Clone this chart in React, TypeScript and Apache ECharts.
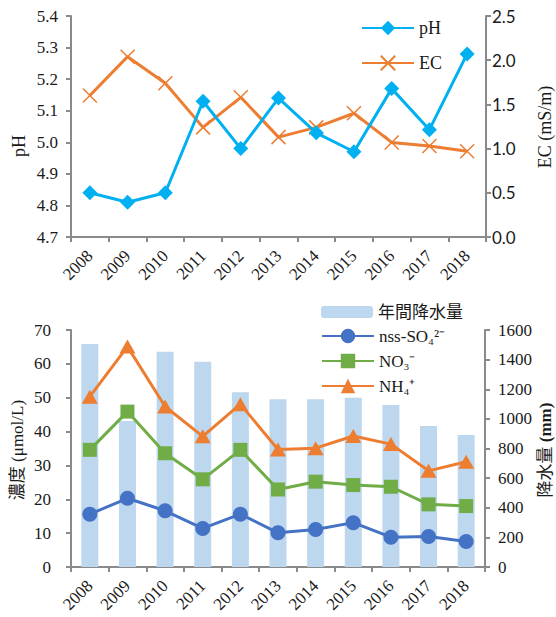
import React, { useEffect, useRef } from "react";
import * as echarts from "echarts";

const years = ["2008", "2009", "2010", "2011", "2012", "2013", "2014", "2015", "2016", "2017", "2018"];
const phValues = [4.84, 4.81, 4.84, 5.13, 4.98, 5.14, 5.03, 4.97, 5.17, 5.04, 5.28];
const ecValues = [1.60, 2.04, 1.74, 1.24, 1.58, 1.13, 1.24, 1.40, 1.07, 1.03, 0.97];
const precipitation = [1506, 986, 1454, 1386, 1179, 1132, 1132, 1143, 1094, 952, 891];
const nssSO4 = [15.6, 20.3, 16.6, 11.4, 15.6, 10.1, 11.1, 13.1, 8.8, 9.0, 7.5];
const no3 = [34.6, 45.9, 33.6, 25.9, 34.6, 22.9, 25.2, 24.2, 23.7, 18.5, 18.0];
const nh4 = [50.3, 65.1, 47.4, 38.6, 48.1, 34.7, 35.1, 38.7, 36.3, 28.4, 31.1];

const SERIF = "'Liberation Serif', 'Times New Roman', 'Noto Sans CJK JP', serif";
const SANS = "Lato, 'Open Sans', sans-serif";
const AXIS = "#8a8a8a";
const TXT = "#1a1a1a";

export default function App() {
  const ref = useRef<HTMLDivElement>(null);
  useEffect(() => {
    if (!ref.current) return;
    const chart = echarts.init(ref.current, undefined, { renderer: "svg" });
    const axisLine = { show: true, lineStyle: { color: AXIS, width: 2 } };
    const axisTick = { show: true, length: 5, lineStyle: { color: AXIS, width: 2 } };
    const xAxisBase = {
      type: "category",
      data: years,
      axisLine,
      axisTick: { ...axisTick, alignWithLabel: false },
      axisLabel: { rotate: 45, interval: 0, margin: 16, fontFamily: SERIF, fontSize: 17, color: TXT },
      splitLine: { show: false },
    };
    const cross = "path://M0,0L10,10M10,0L0,10";
    const legendText = { fontFamily: SERIF, fontSize: 17, color: TXT, lineHeight: 18 };
    const option = {
      animation: false,
      backgroundColor: "#ffffff",
      grid: [
        { left: 71, right: 70, top: 16, height: 221 },
        { left: 71, right: 71, top: 330, height: 237 },
      ],
      legend: [
        {
          orient: "vertical",
          left: 361,
          top: 19,
          padding: 0,
          itemWidth: 52,
          itemHeight: 18,
          itemGap: 17,
          textStyle: { ...legendText, fontSize: 18 },
          data: ["pH", "EC"],
        },
        {
          orient: "vertical",
          left: 321,
          top: 303,
          padding: 0,
          itemWidth: 52,
          itemHeight: 12,
          textStyle: legendText,
          data: ["年間降水量"],
        },
        {
          orient: "vertical",
          left: 321,
          top: 327,
          padding: 0,
          itemWidth: 52,
          itemHeight: 18,
          itemGap: 7,
          textStyle: legendText,
          data: ["nss-SO₄²⁻", "NO₃⁻", "NH₄⁺"],
        },
      ],
      xAxis: [
        { ...xAxisBase, gridIndex: 0 },
        { ...xAxisBase, gridIndex: 1 },
      ],
      yAxis: [
        {
          type: "value", gridIndex: 0, min: 4.7, max: 5.4, interval: 0.1,
          axisLine, axisTick, splitLine: { show: false },
          axisLabel: { margin: 13, fontFamily: SERIF, fontSize: 17, color: TXT, formatter: (v: number) => v.toFixed(1) },
        },
        {
          type: "value", gridIndex: 0, position: "right", min: 0, max: 2.5, interval: 0.5,
          axisLine, axisTick, splitLine: { show: false },
          axisLabel: { margin: 6, fontFamily: SANS, fontSize: 17, color: TXT, formatter: (v: number) => v.toFixed(1) },
        },
        {
          type: "value", gridIndex: 1, min: 0, max: 70, interval: 10,
          axisLine, axisTick, splitLine: { show: false },
          axisLabel: { margin: 20, fontFamily: SERIF, fontSize: 17, color: TXT },
        },
        {
          type: "value", gridIndex: 1, position: "right", min: 0, max: 1600, interval: 200,
          axisLine, axisTick, splitLine: { show: false },
          axisLabel: { margin: 13, fontFamily: SERIF, fontSize: 17, color: TXT, formatter: (v: number) => String(v) },
        },
      ],
      series: [
        {
          name: "pH", type: "line", xAxisIndex: 0, yAxisIndex: 0, data: phValues,
          symbol: "diamond", symbolSize: 15,
          lineStyle: { color: "#00B0F0", width: 3 },
          itemStyle: { color: "#00B0F0" },
          z: 3,
        },
        {
          name: "EC", type: "line", xAxisIndex: 0, yAxisIndex: 1, data: ecValues,
          symbol: cross, symbolSize: 14,
          lineStyle: { color: "#ED7D31", width: 3 },
          itemStyle: { color: "#ED7D31", borderColor: "#ED7D31", borderWidth: 1.5 },
          z: 2,
        },
        {
          name: "年間降水量", type: "bar", xAxisIndex: 1, yAxisIndex: 3, data: precipitation,
          barWidth: 17, itemStyle: { color: "#BDD7EE" }, z: 1,
        },
        {
          name: "nss-SO₄²⁻", type: "line", xAxisIndex: 1, yAxisIndex: 2, data: nssSO4,
          symbol: "circle", symbolSize: 15,
          lineStyle: { color: "#4472C4", width: 3 },
          itemStyle: { color: "#4472C4" }, z: 3,
        },
        {
          name: "NO₃⁻", type: "line", xAxisIndex: 1, yAxisIndex: 2, data: no3,
          symbol: "rect", symbolSize: 14,
          lineStyle: { color: "#70AD47", width: 3 },
          itemStyle: { color: "#70AD47" }, z: 3,
        },
        {
          name: "NH₄⁺", type: "line", xAxisIndex: 1, yAxisIndex: 2, data: nh4,
          symbol: "triangle", symbolSize: [16, 14],
          lineStyle: { color: "#ED7D31", width: 3 },
          itemStyle: { color: "#ED7D31" }, z: 3,
        },
      ],
      graphic: [
        {
          type: "text", x: 19, y: 146, rotation: Math.PI / 2,
          style: { text: "pH", fontFamily: SERIF, fontSize: 18, fill: TXT, align: "center", verticalAlign: "middle" },
        },
        {
          type: "text", x: 545, y: 127, rotation: Math.PI / 2,
          style: { text: "EC (mS/m)", fontFamily: SERIF, fontSize: 18, fill: TXT, align: "center", verticalAlign: "middle" },
        },
        {
          type: "text", x: 17, y: 450, rotation: Math.PI / 2,
          style: { text: "濃度 (μmol/L)", fontFamily: SERIF, fontSize: 17, fill: TXT, align: "center", verticalAlign: "middle" },
        },
        {
          type: "text", x: 545, y: 450, rotation: Math.PI / 2,
          style: {
            text: "{a|降水量 }{b|(mm)}",
            align: "center", verticalAlign: "middle",
            rich: {
              a: { fontFamily: SERIF, fontSize: 17, fill: TXT, color: TXT },
              b: { fontFamily: SERIF, fontSize: 17, fontWeight: "bold", fill: TXT, color: TXT },
            },
          },
        },
      ],
    };
    chart.setOption(option as any);
    return () => chart.dispose();
  }, []);
  return <div ref={ref} style={{ position: "absolute", left: 0, top: 0, width: 556, height: 617 }} />;
}
